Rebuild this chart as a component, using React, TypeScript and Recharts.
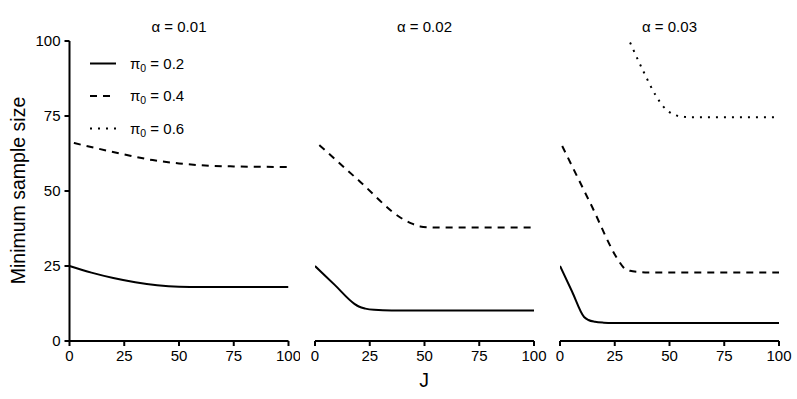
import { LineChart, Line, XAxis, YAxis } from 'recharts'

// J grid and minimum sample sizes, per alpha panel and pi0 series
// alpha = 0.01
const j01Pi2 = [0, 10, 20, 30, 40, 50, 60, 100]
const n01Pi2 = [25, 22.8, 21, 19.6, 18.6, 18.1, 18, 18]
const j01Pi4 = [2, 12, 25, 38, 50, 62, 75, 100]
const n01Pi4 = [66, 64.3, 62.2, 60.3, 59.2, 58.5, 58.2, 58]

// alpha = 0.02
const j02Pi2 = [0, 9, 18, 20, 23, 27, 35, 100]
const n02Pi2 = [25, 18.7, 12.4, 11.5, 10.8, 10.4, 10.2, 10.2]
const j02Pi4 = [2, 20, 40, 44, 48, 52, 60, 100]
const n02Pi4 = [65.3, 53.5, 40.7, 39.2, 38.2, 37.9, 37.8, 37.8]

// alpha = 0.03 (pi0 = 0.6 only visible below 100)
const j03Pi2 = [0, 5.5, 11, 13, 16, 20, 24, 100]
const n03Pi2 = [25, 16.5, 8, 7, 6.4, 6.1, 6, 6]
const j03Pi4 = [1, 14, 27, 29, 32, 36, 40, 100]
const n03Pi4 = [65, 45.7, 26.5, 24.5, 23.4, 23, 22.8, 22.8]
const j03Pi6 = [32, 38, 44, 47, 50, 53, 57, 60, 100]
const n03Pi6 = [99.5, 90, 81.5, 78.3, 76.3, 75.2, 74.7, 74.6, 74.6]

const xTicks = [0, 25, 50, 75, 100]
const yTicks = [0, 25, 50, 75, 100]
const pi0Labels = ['0.2', '0.4', '0.6']
const alphaLabels = ['0.01', '0.02', '0.03']

const FONT = '"Liberation Sans", Arial, sans-serif'
const DASH: Record<string, string | undefined> = {
  '0.2': undefined,
  '0.4': '7 6',
  '0.6': '2 6',
}

const zip = (js: number[], ns: number[]) => js.map((j, i) => ({ j, n: ns[i] }))

const panels = [
  {
    alpha: alphaLabels[0],
    left: 0, width: 300, ml: 0, mr: 11.5, showY: true,
    series: [
      { pi: '0.2', data: zip(j01Pi2, n01Pi2) },
      { pi: '0.4', data: zip(j01Pi4, n01Pi4) },
    ],
  },
  {
    alpha: alphaLabels[1],
    left: 300, width: 250, ml: 15, mr: 16, showY: false,
    series: [
      { pi: '0.2', data: zip(j02Pi2, n02Pi2) },
      { pi: '0.4', data: zip(j02Pi4, n02Pi4) },
    ],
  },
  {
    alpha: alphaLabels[2],
    left: 550, width: 247, ml: 10, mr: 18, showY: false,
    series: [
      { pi: '0.2', data: zip(j03Pi2, n03Pi2) },
      { pi: '0.4', data: zip(j03Pi4, n03Pi4) },
      { pi: '0.6', data: zip(j03Pi6, n03Pi6) },
    ],
  },
]

const tickStyle = { fill: '#000', fontSize: 15, fontFamily: FONT }

function Panel({ p }: { p: (typeof panels)[number] }) {
  const plotLeft = p.left + p.ml + (p.showY ? 69.5 : 0)
  const plotW = p.width - p.ml - p.mr - (p.showY ? 69.5 : 0)
  return (
    <>
      <div
        style={{
          position: 'absolute', top: 18, left: plotLeft, width: plotW,
          textAlign: 'center', fontFamily: FONT, fontSize: 15, color: '#000',
        }}
      >
        α = {p.alpha}
      </div>
      <div style={{ position: 'absolute', left: p.left, top: 0 }}>
        <LineChart
          width={p.width}
          height={399}
          margin={{ top: 41, right: p.mr, bottom: 28, left: p.ml }}
        >
          <XAxis
            type="number"
            dataKey="j"
            domain={[0, 100]}
            ticks={xTicks}
            height={30}
            tick={tickStyle}
            tickSize={5}
            tickMargin={4}
            axisLine={{ stroke: '#000', strokeWidth: 2 }}
            tickLine={{ stroke: '#000', strokeWidth: 2 }}
            allowDataOverflow
          />
          <YAxis
            type="number"
            dataKey="n"
            domain={[0, 100]}
            ticks={yTicks}
            hide={!p.showY}
            width={69.5}
            tick={tickStyle}
            tickSize={5}
            tickMargin={4}
            axisLine={{ stroke: '#000', strokeWidth: 2 }}
            tickLine={{ stroke: '#000', strokeWidth: 2 }}
            allowDataOverflow
          />
          {p.series.map((s) => (
            <Line
              key={s.pi}
              data={s.data}
              dataKey="n"
              type="monotone"
              stroke="#000"
              strokeWidth={2}
              strokeDasharray={DASH[s.pi]}
              dot={false}
              activeDot={false}
              isAnimationActive={false}
            />
          ))}
        </LineChart>
      </div>
    </>
  )
}

export default function App() {
  return (
    <div
      style={{
        position: 'absolute', left: 0, top: 0, width: 797, height: 399,
        background: '#fff', overflow: 'hidden',
      }}
    >
      {panels.map((p) => (
        <Panel key={p.alpha} p={p} />
      ))}

      {/* legend */}
      <svg
        style={{ position: 'absolute', left: 0, top: 0 }}
        width={300}
        height={150}
      >
        {pi0Labels.map((lab, i) => {
          const y = 63.5 + i * 32.5
          return (
            <g key={lab}>
              <line
                x1={90} x2={116} y1={y} y2={y}
                stroke="#000" strokeWidth={2}
                strokeDasharray={DASH[lab]}
              />
              <text
                x={130} y={y + 5}
                fontFamily={FONT} fontSize={15} fill="#000"
              >
                π<tspan fontSize={10.5} dy={3}>0</tspan>
                <tspan dy={-3}> = {lab}</tspan>
              </text>
            </g>
          )
        })}
      </svg>

      {/* axis titles */}
      <div
        style={{
          position: 'absolute', left: 0, top: 369, width: 797 + 51,
          textAlign: 'center', fontFamily: FONT, fontSize: 19.5, color: '#000',
        }}
      >
        J
      </div>
      <div
        style={{
          position: 'absolute', left: 18, top: 191, width: 0, height: 0,
        }}
      >
        <div
          style={{
            position: 'absolute', left: -110, top: -12, width: 220,
            textAlign: 'center', fontFamily: FONT, fontSize: 19.5,
            color: '#000', transform: 'rotate(-90deg)', whiteSpace: 'nowrap',
          }}
        >
          Minimum sample size
        </div>
      </div>
    </div>
  )
}
